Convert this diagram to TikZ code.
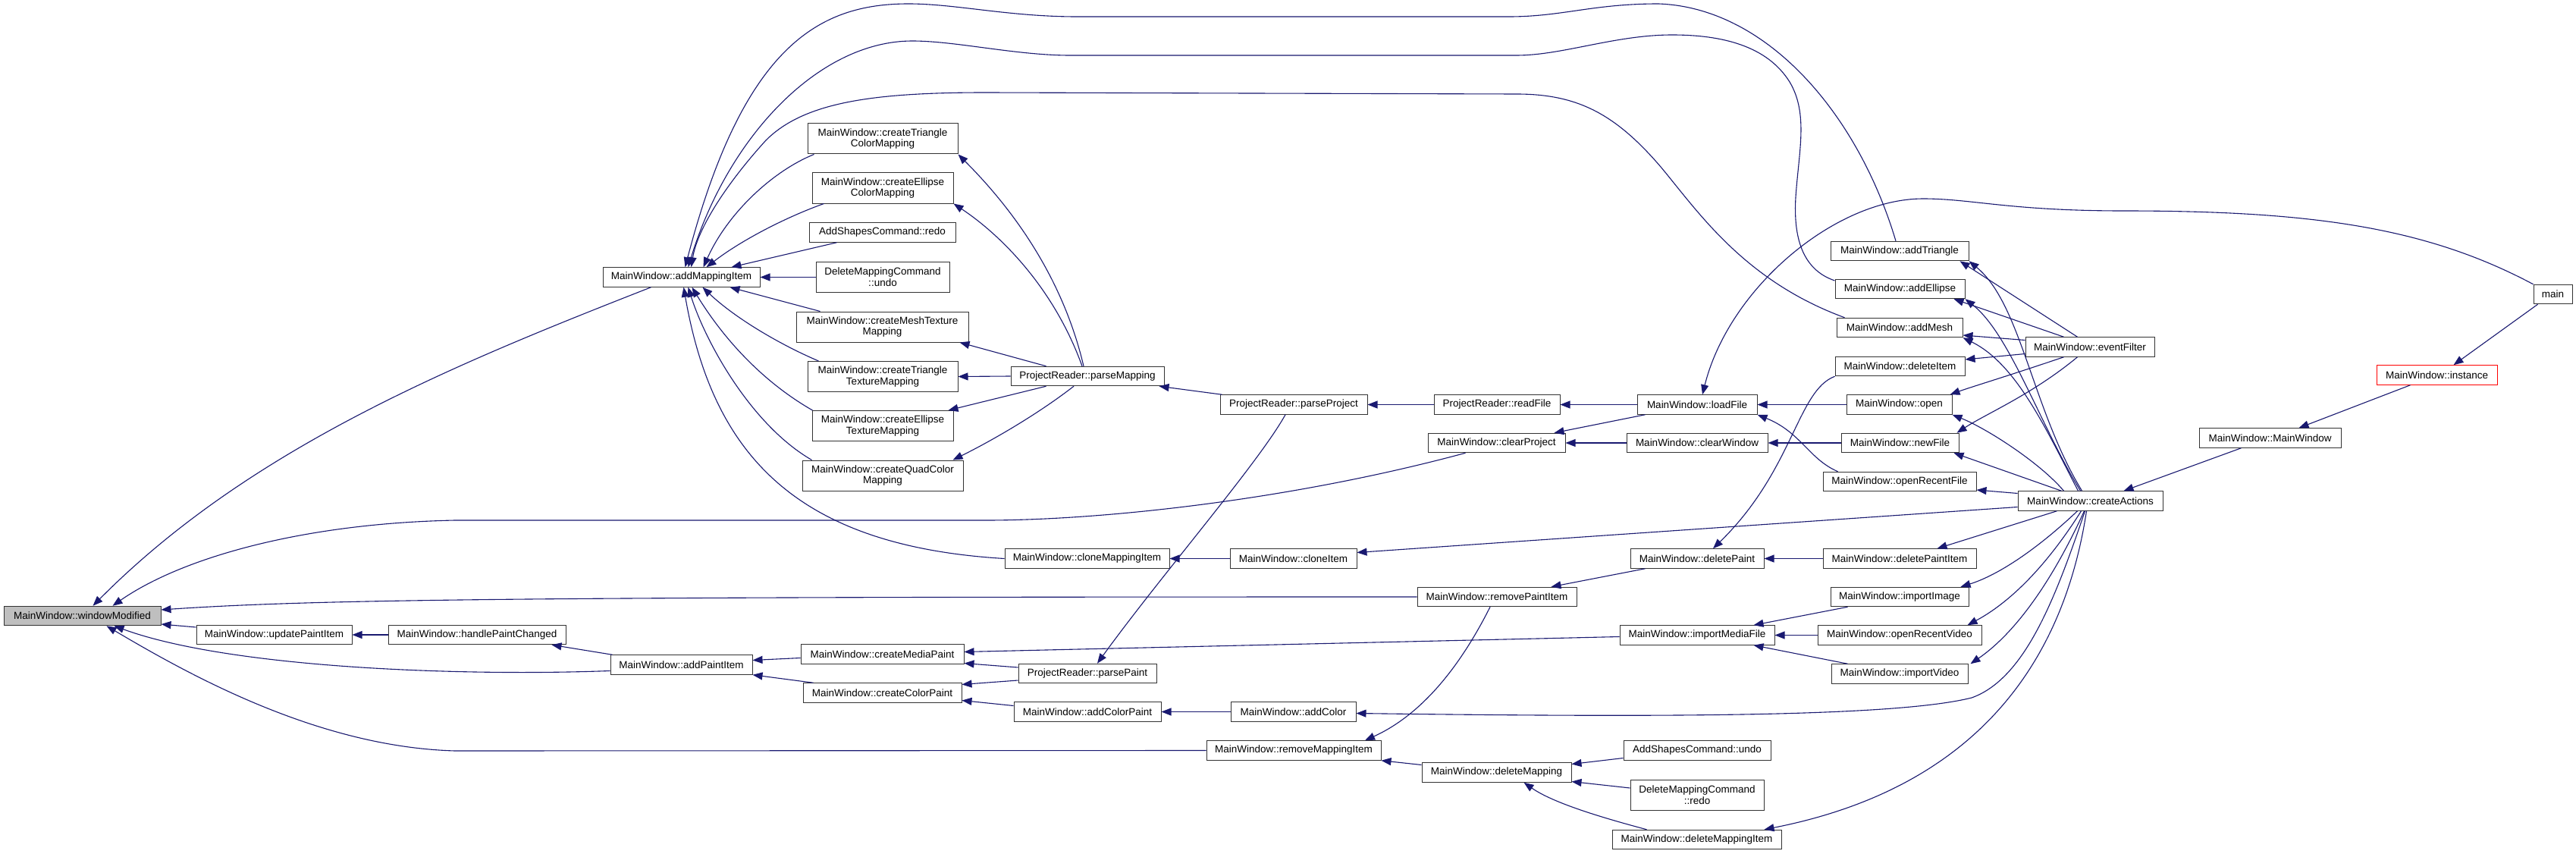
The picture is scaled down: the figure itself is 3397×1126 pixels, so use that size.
\documentclass[tikz,border=0pt]{standalone}
\usepackage{fontspec}
\setmainfont{Liberation Sans}
\usetikzlibrary{arrows.meta,calc}
\definecolor{edgeblue}{RGB}{25,25,112}
\definecolor{rootgray}{RGB}{191,191,191}
\newcommand{\fnfont}{\fontsize{13.5pt}{14.7pt}\selectfont}

\begin{document}
\begin{tikzpicture}[x=1pt, y=-1pt,
  fn/.style={draw=black!80, line width=1pt, fill=white, inner sep=0pt, minimum height=25.5pt, align=center, font=\fnfont},
  fntwo/.style={fn, minimum height=40pt},
  arr/.style={-{Triangle[length=13pt,width=10pt]}, draw=edgeblue, line width=1.1pt}]

\fill[white] (0,0) rectangle (3397,1126);
\useasboundingbox (0,0) rectangle (3397,1126);

% --- columns of functions, left to right ---
\node[fn, fill=rootgray, minimum width=207pt] (wmod) at (108.5,812) {MainWindow::windowModified};
\node[fn, minimum width=205pt] (upd) at (361.5,837) {MainWindow::updatePaintItem};
\node[fn, minimum width=234pt] (hpc) at (629,837) {MainWindow::handlePaintChanged};
\node[fn, minimum width=207pt] (addmap) at (898.5,365.5) {MainWindow::addMappingItem};
\node[fn, minimum width=187pt] (addpaint) at (898.5,876.5) {MainWindow::addPaintItem};

\node[fntwo, minimum width=198pt] (trimap) at (1164,183) {MainWindow::createTriangle\\ColorMapping};
\node[fntwo, minimum width=186pt] (ellmap) at (1164,248) {MainWindow::createEllipse\\ColorMapping};
\node[fn, minimum width=193pt] (asredo) at (1163.5,306.5) {AddShapesCommand::redo};
\node[fntwo, minimum width=176pt] (dmundo) at (1164,365.5) {DeleteMappingCommand\\::undo};
\node[fntwo, minimum width=227pt] (meshtex) at (1163.5,431) {MainWindow::createMeshTexture\\Mapping};
\node[fntwo, minimum width=198pt] (tritex) at (1164,496.5) {MainWindow::createTriangle\\TextureMapping};
\node[fntwo, minimum width=186pt] (elltex) at (1164,561.5) {MainWindow::createEllipse\\TextureMapping};
\node[fntwo, minimum width=212pt] (quadcol) at (1164,627) {MainWindow::createQuadColor\\Mapping};
\node[fn, minimum width=215pt] (medpaint) at (1163.5,862.5) {MainWindow::createMediaPaint};
\node[fn, minimum width=209pt] (colpaint) at (1163.5,913.5) {MainWindow::createColorPaint};

\node[fn, minimum width=202pt] (parsemap) at (1434,496) {ProjectReader::parseMapping};
\node[fn, minimum width=217pt] (clonemap) at (1433.5,736.5) {MainWindow::cloneMappingItem};
\node[fn, minimum width=182pt] (parsepaint) at (1434,888) {ProjectReader::parsePaint};
\node[fn, minimum width=194pt] (addcolp) at (1434,938.5) {MainWindow::addColorPaint};

\node[fn, minimum width=194pt] (parseproj) at (1706,533.5) {ProjectReader::parseProject};
\node[fn, minimum width=167pt] (cloneit) at (1705.5,736.5) {MainWindow::cloneItem};
\node[fn, minimum width=165pt] (addcol) at (1705.5,938.5) {MainWindow::addColor};
\node[fn, minimum width=230pt] (remmap) at (1706,989.5) {MainWindow::removeMappingItem};

\node[fn, minimum width=166pt] (readf) at (1974,533.5) {ProjectReader::readFile};
\node[fn, minimum width=181pt] (clearproj) at (1973.5,584) {MainWindow::clearProject};
\node[fn, minimum width=210pt] (rempaint) at (1974,787) {MainWindow::removePaintItem};
\node[fn, minimum width=197pt] (delmap) at (1973.5,1018.5) {MainWindow::deleteMapping};

\node[fn, minimum width=158pt] (loadf) at (2238,533.5) {MainWindow::loadFile};
\node[fn, minimum width=186pt] (clearwin) at (2238,584) {MainWindow::clearWindow};
\node[fn, minimum width=176pt] (delpaint) at (2238,736.5) {MainWindow::deletePaint};
\node[fn, minimum width=204pt] (impmedia) at (2238,837.5) {MainWindow::importMediaFile};
\node[fn, minimum width=194pt] (asundo) at (2238,989.5) {AddShapesCommand::undo};
\node[fntwo, minimum width=176pt] (dmredo) at (2238,1048) {DeleteMappingCommand\\::redo};
\node[fn, minimum width=223pt] (delmapit) at (2237.5,1107) {MainWindow::deleteMappingItem};

\node[fn, minimum width=182pt] (addtri) at (2505,331) {MainWindow::addTriangle};
\node[fn, minimum width=171pt] (addell) at (2505.5,381) {MainWindow::addEllipse};
\node[fn, minimum width=166pt] (addmesh) at (2505,432) {MainWindow::addMesh};
\node[fn, minimum width=171pt] (delitem) at (2505.5,483) {MainWindow::deleteItem};
\node[fn, minimum width=139pt] (openf) at (2504.5,533.5) {MainWindow::open};
\node[fn, minimum width=155pt] (newf) at (2505.5,584) {MainWindow::newFile};
\node[fn, minimum width=202pt] (openrecf) at (2505,635) {MainWindow::openRecentFile};
\node[fn, minimum width=202pt] (delpaintit) at (2505,736.5) {MainWindow::deletePaintItem};
\node[fn, minimum width=182pt] (impimg) at (2505,787) {MainWindow::importImage};
\node[fn, minimum width=216pt] (openrecv) at (2505,837.5) {MainWindow::openRecentVideo};
\node[fn, minimum width=180pt] (impvid) at (2505,888.5) {MainWindow::importVideo};

\node[fn, minimum width=170pt] (evfilter) at (2756,457.5) {MainWindow::eventFilter};
\node[fn, minimum width=191pt] (createact) at (2756.5,660.5) {MainWindow::createActions};
\node[fn, minimum width=187pt] (mwctor) at (2993.5,577.5) {MainWindow::MainWindow};
\node[fn, draw=red, minimum width=159pt] (inst) at (3213.5,494.5) {MainWindow::instance};
\node[fn, minimum width=51pt] (mainf) at (3366.5,388) {main};

% --- callers of windowModified ---
\draw[arr] ($(addmap.south)+(-40,0)$) .. controls (600,480) and (330,590) .. ($(wmod.north)+(14,0)$);
\draw[arr] ($(clearproj.south)+(-41,0)$) .. controls (1700,660) and (1450,686) .. (1300,686) -- (600,686) .. controls (400,690) and (240,735) .. ($(wmod.north)+(40,0)$);
\draw[arr] (rempaint.west) .. controls (700,787) and (420,790) .. ($(wmod.east)+(0,-8)$);
\draw[arr] ($(upd.west)+(0,-10)$) -- ($(wmod.east)+(0,11)$);
\draw[arr] ($(addpaint.west)+(0,8)$) .. controls (600,892) and (300,880) .. ($(wmod.south)+(42,0)$);
\draw[arr] (remmap.west) -- (600,990) .. controls (420,985) and (250,890) .. ($(wmod.south)+(32,0)$);

% --- callers of addMappingItem ---
\draw[arr] ($(addtri.north)+(-5,0)$) .. controls (2450,150) and (2330,10) .. (2187,5) .. controls (2100,5) and (2060,22) .. (1990,22) -- (1420,22) .. controls (1330,22) and (1260,5) .. (1198,5) .. controls (1080,5) and (980,60) .. ($(addmap.north)+(5,0)$);
\draw[arr] ($(addell.west)+(0,-11)$) .. controls (2375,355) and (2365,310) .. (2368,260) .. controls (2372,200) and (2385,150) .. (2360,108) .. controls (2330,60) and (2270,46) .. (2205,46) .. controls (2130,46) and (2060,73) .. (2000,73) -- (1411,73) .. controls (1340,73) and (1260,54) .. (1203,54) .. controls (1080,54) and (960,180) .. ($(addmap.north)+(9,0)$);
\draw[arr] ($(addmesh.north west)+(11,0)$) .. controls (2300,370) and (2240,280) .. (2190,220) .. controls (2130,150) and (2080,124) .. (2000,124) -- (1300,122) .. controls (1150,122) and (1060,135) .. (1010,185) .. controls (960,240) and (920,300) .. ($(addmap.north)+(13,0)$);
\draw[arr] ($(trimap.south west)+(9,0)$) .. controls (1020,225) and (960,280) .. ($(addmap.north)+(29,0)$);
\draw[arr] ($(ellmap.south west)+(16,0)$) .. controls (1040,285) and (980,315) .. ($(addmap.north)+(33,0)$);
\draw[arr] ($(asredo.south west)+(37,0)$) -- ($(addmap.north)+(66,0)$);
\draw[arr] (dmundo.west) -- (addmap.east);
\draw[arr] ($(meshtex.north west)+(32,0)$) -- ($(addmap.south)+(64,0)$);
\draw[arr] ($(tritex.north west)+(15,0)$) .. controls (1030,455) and (970,420) .. ($(addmap.south)+(28,0)$);
\draw[arr] ($(elltex.north west)+(1,0)$) .. controls (1000,500) and (950,440) .. ($(addmap.south)+(14,0)$);
\draw[arr] ($(quadcol.north west)+(13,0)$) .. controls (990,560) and (930,450) .. ($(addmap.south)+(9,0)$);
\draw[arr] (clonemap.west) .. controls (1050,720) and (940,600) .. ($(addmap.south)+(3,0)$);

% --- parseMapping ---
\draw[arr] ($(parsemap.north)+(-5,0)$) .. controls (1400,360) and (1330,270) .. (trimap.south east);
\draw[arr] ($(parsemap.north)+(-7,0)$) .. controls (1390,380) and (1320,310) .. (ellmap.south east);
\draw[arr] ($(parsemap.north west)+(47,0)$) -- ($(meshtex.south east)+(-12,0)$);
\draw[arr] (parsemap.west) -- (tritex.east);
\draw[arr] ($(parsemap.south west)+(47,0)$) -- ($(elltex.north east)+(-7,0)$);
\draw[arr] ($(parsemap.south)+(-18,0)$) .. controls (1370,545) and (1310,580) .. ($(quadcol.north east)+(-14,0)$);

% --- reading a project ---
\draw[arr] ($(parseproj.north west)+(3,0)$) -- ($(parsemap.south east)+(-7,0)$);
\draw[arr] ($(parseproj.south)+(-11,0)$) .. controls (1660,610) and (1530,760) .. ($(parsepaint.north)+(13,0)$);
\draw[arr] (readf.west) -- (parseproj.east);
\draw[arr] (loadf.west) -- (readf.east);
\draw[arr] ($(loadf.south west)+(11,0)$) -- ($(clearproj.north east)+(-15,0)$);
\draw[arr] (openf.west) -- (loadf.east);
\draw[arr] ($(openrecf.north west)+(20,0)$) .. controls (2385,605) and (2375,570) .. (loadf.south east);
\draw[arr] (mainf.north west) .. controls (3200,300) and (3050,278) .. (2800,278) .. controls (2650,278) and (2600,262) .. (2536,262) .. controls (2420,262) and (2280,380) .. ($(loadf.north)+(7,0)$);
\draw[arr] (clearwin.west) -- (clearproj.east);
\draw[arr] (newf.west) -- (clearwin.east);

% --- cloning ---
\draw[arr] (cloneit.west) -- (clonemap.east);
\draw[arr] ($(createact.west)+(0,8)$) -- ($(cloneit.east)+(0,-8)$);

% --- removing paints and mappings ---
\draw[arr] (delitem.south west) .. controls (2370,515) and (2365,620) .. ($(delpaint.north)+(21,0)$);
\draw[arr] (delpaintit.west) -- (delpaint.east);
\draw[arr] ($(delpaint.south west)+(20,0)$) -- ($(rempaint.north east)+(-34,0)$);
\draw[arr] ($(rempaint.south)+(-9,0)$) .. controls (1930,870) and (1880,940) .. ($(remmap.north)+(94,0)$);
\draw[arr] ($(delmap.west)+(0,-10)$) -- (remmap.south east);
\draw[arr] ($(asundo.west)+(0,10)$) -- ($(delmap.east)+(0,-11)$);
\draw[arr] ($(dmredo.west)+(0,-9)$) -- ($(delmap.east)+(0,12)$);
\draw[arr] ($(delmapit.north west)+(46,0)$) .. controls (2120,1080) and (2050,1060) .. ($(delmap.south)+(36,0)$);

% --- creating paints ---
\draw[arr] ($(impimg.south west)+(23,0)$) -- ($(impmedia.north east)+(-28,0)$);
\draw[arr] (openrecv.west) -- (impmedia.east);
\draw[arr] ($(impvid.north west)+(22,0)$) -- ($(impmedia.south east)+(-28,0)$);
\draw[arr] ($(impmedia.west)+(0,2)$) -- ($(medpaint.east)+(0,-3)$);
\draw[arr] ($(parsepaint.west)+(0,-8)$) -- ($(medpaint.east)+(0,12)$);
\draw[arr] ($(parsepaint.west)+(0,9)$) -- ($(colpaint.east)+(0,-11)$);
\draw[arr] ($(addcolp.west)+(0,-8)$) -- ($(colpaint.east)+(0,10)$);
\draw[arr] (addcol.west) -- (addcolp.east);
\draw[arr] ($(medpaint.west)+(0,5)$) -- ($(addpaint.east)+(0,-6)$);
\draw[arr] ($(colpaint.north west)+(14,0)$) -- (addpaint.south east);
\draw[arr] ($(addpaint.north west)+(3,0)$) -- ($(hpc.south east)+(-19,0)$);
\draw[arr] (hpc.west) -- (upd.east);

% --- eventFilter ---
\draw[arr] ($(evfilter.north west)+(69,0)$) -- ($(addtri.south east)+(-12,0)$);
\draw[arr] ($(evfilter.north west)+(51,0)$) -- ($(addell.south east)+(-15,0)$);
\draw[arr] ($(evfilter.west)+(0,-9)$) -- ($(addmesh.east)+(0,10)$);
\draw[arr] ($(evfilter.west)+(0,9)$) -- ($(delitem.east)+(0,-9)$);
\draw[arr] ($(evfilter.south west)+(51,0)$) .. controls (2650,495) and (2600,510) .. ($(openf.north east)+(-3,0)$);
\draw[arr] ($(evfilter.south west)+(69,0)$) .. controls (2680,520) and (2620,545) .. ($(newf.north east)+(-3,0)$);

% --- createActions ---
\draw[arr] ($(createact.north west)+(85,0)$) .. controls (2680,540) and (2665,400) .. (addtri.south east);
\draw[arr] ($(createact.north west)+(83,0)$) .. controls (2690,560) and (2650,440) .. (addell.south east);
\draw[arr] ($(createact.north west)+(80,0)$) .. controls (2700,570) and (2660,480) .. (addmesh.south east);
\draw[arr] ($(createact.north west)+(61,0)$) .. controls (2690,610) and (2620,565) .. (openf.south east);
\draw[arr] ($(createact.north west)+(58,0)$) -- ($(newf.south east)+(-7,0)$);
\draw[arr] ($(createact.west)+(0,-10)$) -- ($(openrecf.east)+(0,11)$);
\draw[arr] ($(createact.south west)+(52,0)$) -- ($(delpaintit.north east)+(-52,0)$);
\draw[arr] ($(createact.south west)+(79,0)$) .. controls (2680,730) and (2630,760) .. ($(impimg.north east)+(-11,0)$);
\draw[arr] ($(createact.south west)+(84,0)$) .. controls (2690,760) and (2640,800) .. ($(openrecv.north east)+(-19,0)$);
\draw[arr] ($(createact.south west)+(88,0)$) .. controls (2700,780) and (2650,840) .. ($(impvid.north east)+(3,0)$);
\draw[arr] ($(createact.south west)+(89,0)$) .. controls (2710,790) and (2670,895) .. (2600,920) .. controls (2500,945) and (2200,946) .. ($(addcol.east)+(0,2)$);
\draw[arr] ($(createact.south west)+(91,0)$) .. controls (2720,880) and (2600,1040) .. ($(delmapit.north east)+(-23,0)$);

% --- main -> instance -> constructor ---
\draw[arr] ($(mwctor.south west)+(56,0)$) -- ($(createact.north east)+(-52,0)$);
\draw[arr] ($(inst.south)+(-35,0)$) -- ($(mwctor.north)+(38,0)$);
\draw[arr] ($(mainf.south west)+(6,0)$) -- ($(inst.north)+(22,0)$);
\end{tikzpicture}
\end{document}
